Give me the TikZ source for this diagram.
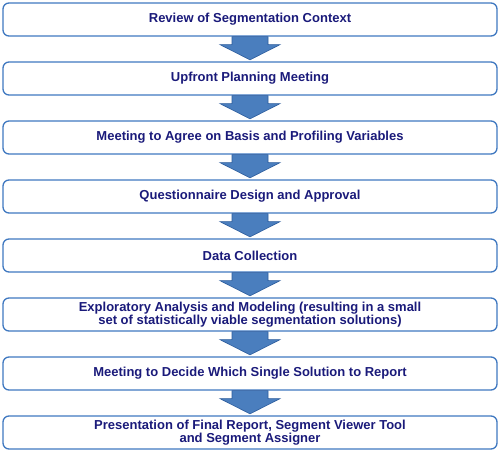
\documentclass[tikz,border=0pt]{standalone}
\usepackage{fontspec}
\setmainfont{Liberation Sans}
\usetikzlibrary{positioning}
\definecolor{azulborda}{HTML}{3F78C0}
\definecolor{azulseta}{HTML}{4A7EBE}
\definecolor{azulescuro}{HTML}{2C5C9C}
\definecolor{textonavy}{HTML}{1A1A7A}
\begin{document}
\begin{tikzpicture}[x=1pt, y=-1pt,
    etapa/.style={draw=azulborda, line width=1.3pt, rectangle, rounded corners=6pt,
      minimum width=494pt, minimum height=33pt, inner sep=0pt, align=center,
      text=textonavy, font=\fontsize{13}{13.5}\selectfont\bfseries},
    seta/.style={fill=azulseta, draw=azulescuro, line width=0.6pt, line join=miter}]
\useasboundingbox (0,0) rectangle (500,453);
% Etapas
\node[etapa] (e1) at (250,19.5) {Review of Segmentation Context};
\node[etapa] (e2) at (250,78.5) {Upfront Planning Meeting};
\node[etapa] (e3) at (250,137.5) {Meeting to Agree on Basis and Profiling Variables};
\node[etapa] (e4) at (250,196.5) {Questionnaire Design and Approval};
\node[etapa] (e5) at (250,255.5) {Data Collection};
\node[etapa] (e6) at (250,314.5) {Exploratory Analysis and Modeling (resulting in a small\\set of statistically viable segmentation solutions)};
\node[etapa] (e7) at (250,373.5) {Meeting to Decide Which Single Solution to Report};
\node[etapa] (e8) at (250,432.5) {Presentation of Final Report, Segment Viewer Tool\\and Segment Assigner};
% Setas entre etapas
\foreach \a/\b in {e1/e2,e2/e3,e3/e4,e4/e5,e5/e6,e6/e7,e7/e8}
  \draw[seta] ([xshift=-18pt]\a.south) -- ([xshift=-18pt,yshift=-8pt]\a.south)
    -- ([xshift=-30pt,yshift=-8pt]\a.south) -- ([yshift=1.5pt]\b.north)
    -- ([xshift=30pt,yshift=-8pt]\a.south) -- ([xshift=18pt,yshift=-8pt]\a.south)
    -- ([xshift=18pt]\a.south) -- cycle;
\end{tikzpicture}
\end{document}
